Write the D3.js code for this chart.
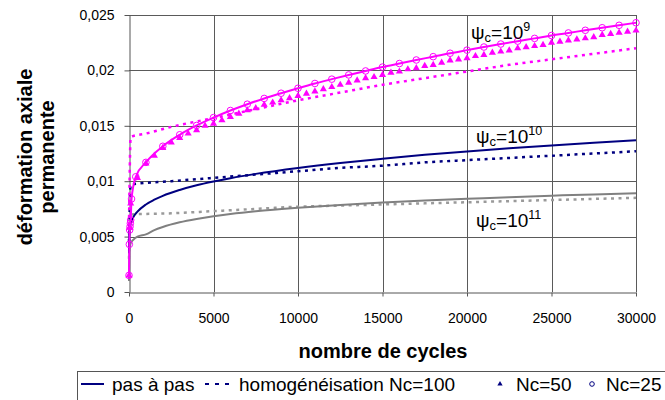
<!DOCTYPE html>
<html><head><meta charset="utf-8">
<script src="https://cdn.jsdelivr.net/npm/d3@7"></script>
<style>
body{margin:0;background:#fff}
svg{display:block}
text{font-family:"Liberation Sans",Arial,sans-serif;fill:#000}
</style>
</head><body><svg id="c" width="665" height="400"></svg>
<script>
// ---- data ----
const xTicks=[0,5000,10000,15000,20000,25000,30000];
const yTicks=[0,0.005,0.01,0.015,0.02,0.025];
const yTickLabels=["0","0,005","0,01","0,015","0,02","0,025"];

// psi_c = 1e9 (magenta)
const pas9Cycles=[0,20,40,60,80,100,150,400,1000,2000,3000,4000,5000,6000,7000,8000,9000,10000,11000,12000,13000,14000,15000,16000,17000,18000,19000,20000,21000,22000,23000,24000,25000,26000,27000,28000,29000,30000];
const pas9Values=[0.0015,0.0043,0.0056,0.0059,0.0062,0.0065,0.0084,0.0104,0.01170,0.01315,0.01419,0.01503,0.01574,0.01638,0.01695,0.01747,0.01794,0.01839,0.01882,0.01921,0.01959,0.01995,0.02030,0.02062,0.02094,0.02124,0.02155,0.02183,0.02211,0.02238,0.02264,0.02289,0.02315,0.02338,0.02362,0.02385,0.02407,0.02430];
const homog9Cycles=[0,100,1000,2500,5000,7500,10000,12500,15000,17500,20000,22500,25000,27500,30000];
const homog9Values=[0.0060,0.0140,0.0143,0.0149,0.0157,0.0165,0.0173,0.0180,0.0187,0.0193,0.0199,0.0205,0.0210,0.0215,0.0220];
const nc50Cycles=[0,50,100,500,1000,1500,2000,2500,3000,3500,4000,4500,5000,5500,6000,6500,7000,7500,8000,8500,9000,9500,10000,10500,11000,11500,12000,12500,13000,13500,14000,14500,15000,15500,16000,16500,17000,17500,18000,18500,19000,19500,20000,20500,21000,21500,22000,22500,23000,23500,24000,24500,25000,25500,26000,26500,27000,27500,28000,28500,29000,29500,30000];
const nc50Values=[0.0015,0.0058,0.0080,0.0103,0.0116,0.0123,0.0130,0.0135,0.0139,0.0143,0.0146,0.0150,0.0152,0.0155,0.0158,0.0161,0.0164,0.0166,0.0169,0.0171,0.0173,0.0175,0.0177,0.0179,0.0181,0.0183,0.0185,0.0187,0.0189,0.0191,0.0193,0.0194,0.0196,0.0198,0.0199,0.0201,0.0202,0.0204,0.0205,0.0207,0.0209,0.0210,0.0211,0.0213,0.0214,0.0216,0.0217,0.0218,0.0220,0.0221,0.0222,0.0223,0.0225,0.0226,0.0227,0.0228,0.0229,0.0230,0.0232,0.0233,0.0234,0.0235,0.0236];
const nc25Cycles=[0,20,40,60,80,100,150,400,1000,2000,3000,4000,5000,6000,7000,8000,9000,10000,11000,12000,13000,14000,15000,16000,17000,18000,19000,20000,21000,22000,23000,24000,25000,26000,27000,28000,29000,30000];
const nc25Values=[0.0015,0.0043,0.0056,0.0059,0.0062,0.0065,0.0084,0.0104,0.01170,0.01315,0.01419,0.01503,0.01574,0.01638,0.01695,0.01747,0.01794,0.01839,0.01882,0.01921,0.01959,0.01995,0.02030,0.02062,0.02094,0.02124,0.02155,0.02183,0.02211,0.02238,0.02264,0.02289,0.02315,0.02338,0.02362,0.02385,0.02407,0.02430];

// psi_c = 1e10 (navy)
const pas10Cycles=[0,20,50,100,250,500,1000,1500,2000,3000,4000,5000,6000,7500,10000,12500,15000,17500,20000,22500,25000,27500,30000];
const pas10Values=[0.0035,0.0055,0.00583,0.00616,0.00674,0.00725,0.00790,0.00833,0.00868,0.00921,0.00963,0.00997,0.01027,0.01066,0.01120,0.01165,0.01203,0.01238,0.01269,0.01297,0.01323,0.01347,0.01370];
const homog10Cycles=[0,100,2500,5000,7500,10000,12500,15000,17500,20000,22500,25000,27500,30000];
const homog10Values=[0.0045,0.0097,0.0100,0.0103,0.0106,0.0109,0.0112,0.0114,0.0117,0.0119,0.0121,0.0123,0.0125,0.0127];

// psi_c = 1e11 (grey)
const pas11Cycles=[0,20,50,100,250,500,1000,1500,2000,3000,4000,5000,6000,7500,10000,12500,15000,17500,20000,22500,25000,27500,30000];
const pas11Values=[0.0010,0.0036,0.0041,0.0044,0.0047,0.0050,0.00520,0.00559,0.00587,0.00629,0.00659,0.00683,0.00703,0.00728,0.00760,0.00786,0.00807,0.00826,0.00841,0.00856,0.00869,0.00881,0.00891];
const homog11Cycles=[0,100,2500,5000,7500,10000,12500,15000,17500,20000,22500,25000,27500,30000];
const homog11Values=[0.0030,0.0070,0.0071,0.0073,0.0075,0.0077,0.0078,0.0079,0.0080,0.0081,0.0082,0.0083,0.0084,0.0085];

const legendLabels=["pas à pas","homogénéisation Nc=100","Nc=50","Nc=25"];

// ---- drawing ----
const svg=d3.select("#c");
const x=d3.scaleLinear().domain([0,30000]).range([129,636]);
const y=d3.scaleLinear().domain([0,0.025]).range([292,15]);
const MAG="#ff00ff",NAVY="#000080",GREY="#808080",GREYD="#9a9a9a";

// gridlines
const grid=svg.append("g");
grid.selectAll(".hg").data(yTicks.filter(d=>d>0)).join("line")
  .attr("x1",x(0)).attr("x2",x(30000)).attr("y1",d=>Math.round(y(d))+0.5).attr("y2",d=>Math.round(y(d))+0.5)
  .attr("stroke","#5a5a5a").attr("stroke-width",1);
grid.selectAll(".vg").data(xTicks.filter(d=>d>0)).join("line")
  .attr("y1",y(0.025)).attr("y2",y(0)).attr("x1",d=>Math.round(x(d))+0.5).attr("x2",d=>Math.round(x(d))+0.5)
  .attr("stroke","#5a5a5a").attr("stroke-width",1);

// axes
const xAxis=d3.axisBottom(x).tickValues(xTicks).tickFormat(d3.format("d")).tickSizeInner(4).tickSizeOuter(0).tickPadding(17);
const yAxis=d3.axisLeft(y).tickValues(yTicks).tickFormat((d,i)=>yTickLabels[i]).tickSizeInner(5).tickSizeOuter(0).tickPadding(10);
const gx=svg.append("g").attr("transform",`translate(0,${Math.round(y(0))+0.5})`).call(xAxis);
const gy=svg.append("g").attr("transform",`translate(${Math.round(x(0))+0.5},0)`).call(yAxis);
[gx,gy].forEach(g=>{
  g.select(".domain").attr("stroke","#555");
  g.selectAll(".tick line").attr("stroke","#555");
  g.selectAll(".tick text").attr("font-size",14).attr("font-family","Liberation Sans, Arial, sans-serif").attr("fill","#000");
});

// lines
const line=(cs,vs)=>d3.line().curve(d3.curveMonotoneX)(cs.map((c,i)=>[x(c),y(vs[i])]));
const plot=svg.append("g");
function addLine(cs,vs,color,dash,w){
  plot.append("path").attr("d",line(cs,vs)).attr("fill","none").attr("stroke",color)
    .attr("stroke-width",w).attr("stroke-dasharray",dash||null).attr("stroke-linejoin","round");
}
addLine(homog11Cycles,homog11Values,GREYD,"3,4.5",2.5);
addLine(pas11Cycles,pas11Values,GREY,null,2);
addLine(homog10Cycles,homog10Values,NAVY,"3,4.5",2.5);
addLine(pas10Cycles,pas10Values,NAVY,null,2);
addLine(homog9Cycles,homog9Values,MAG,"3,4.5",2.5);
addLine(pas9Cycles,pas9Values,MAG,null,2);

// markers
const tri=d3.symbol().type(d3.symbolTriangle).size(22);
plot.selectAll(".tri").data(nc50Cycles).join("path")
  .attr("d",tri).attr("transform",(c,i)=>`translate(${x(c)},${y(nc50Values[i])})`)
  .attr("fill",MAG);
plot.selectAll(".circ").data(nc25Cycles).join("circle")
  .attr("cx",c=>x(c)).attr("cy",(c,i)=>y(nc25Values[i])).attr("r",3.3)
  .attr("fill","none").attr("stroke",MAG).attr("stroke-width",1);

// psi labels
function psiLabel(px,py,exp){
  const t=svg.append("text").attr("x",px).attr("y",py).attr("font-size",19);
  t.append("tspan").text("ψ");
  t.append("tspan").attr("font-size",13).attr("dy",3).text("c");
  t.append("tspan").attr("dy",-3).text("=10");
  t.append("tspan").attr("font-size",12.5).attr("dy",-8).text(exp);
}
psiLabel(471,39,"9");
psiLabel(476,143,"10");
psiLabel(476,227,"11");

// axis titles
svg.append("text").attr("x",383).attr("y",358).attr("text-anchor","middle")
  .attr("font-size",20).attr("font-weight","bold").text("nombre de cycles");
const yt=svg.append("text").attr("transform","translate(31.5,157) rotate(-90)")
  .attr("text-anchor","middle").attr("font-size",20).attr("font-weight","bold");
yt.append("tspan").attr("x",0).attr("y",0).text("déformation axiale");
yt.append("tspan").attr("x",0).attr("y",22.5).text("permanente");

// legend
const lg=svg.append("g");
lg.append("rect").attr("x",77.5).attr("y",371.5).attr("width",620).attr("height",40)
  .attr("fill","#fff").attr("stroke","#555");
const ly=384, lfs=19;
lg.append("line").attr("x1",81).attr("x2",104).attr("y1",ly).attr("y2",ly).attr("stroke",NAVY).attr("stroke-width",2);
lg.append("text").attr("x",112).attr("y",ly+7).attr("font-size",lfs).text(legendLabels[0]);
lg.append("line").attr("x1",205).attr("x2",233).attr("y1",ly).attr("y2",ly).attr("stroke",NAVY).attr("stroke-width",2).attr("stroke-dasharray","4,6");
lg.append("text").attr("x",239).attr("y",ly+7).attr("font-size",lfs).text(legendLabels[1]);
lg.append("path").attr("d",d3.symbol().type(d3.symbolTriangle).size(12)).attr("transform",`translate(500,${ly})`).attr("fill",NAVY);
lg.append("text").attr("x",516).attr("y",ly+7).attr("font-size",lfs).text(legendLabels[2]);
lg.append("circle").attr("cx",592).attr("cy",ly).attr("r",2.3).attr("fill","none").attr("stroke",NAVY).attr("stroke-width",1);
lg.append("text").attr("x",606).attr("y",ly+7).attr("font-size",lfs).text(legendLabels[3]);
</script>
</body></html>
